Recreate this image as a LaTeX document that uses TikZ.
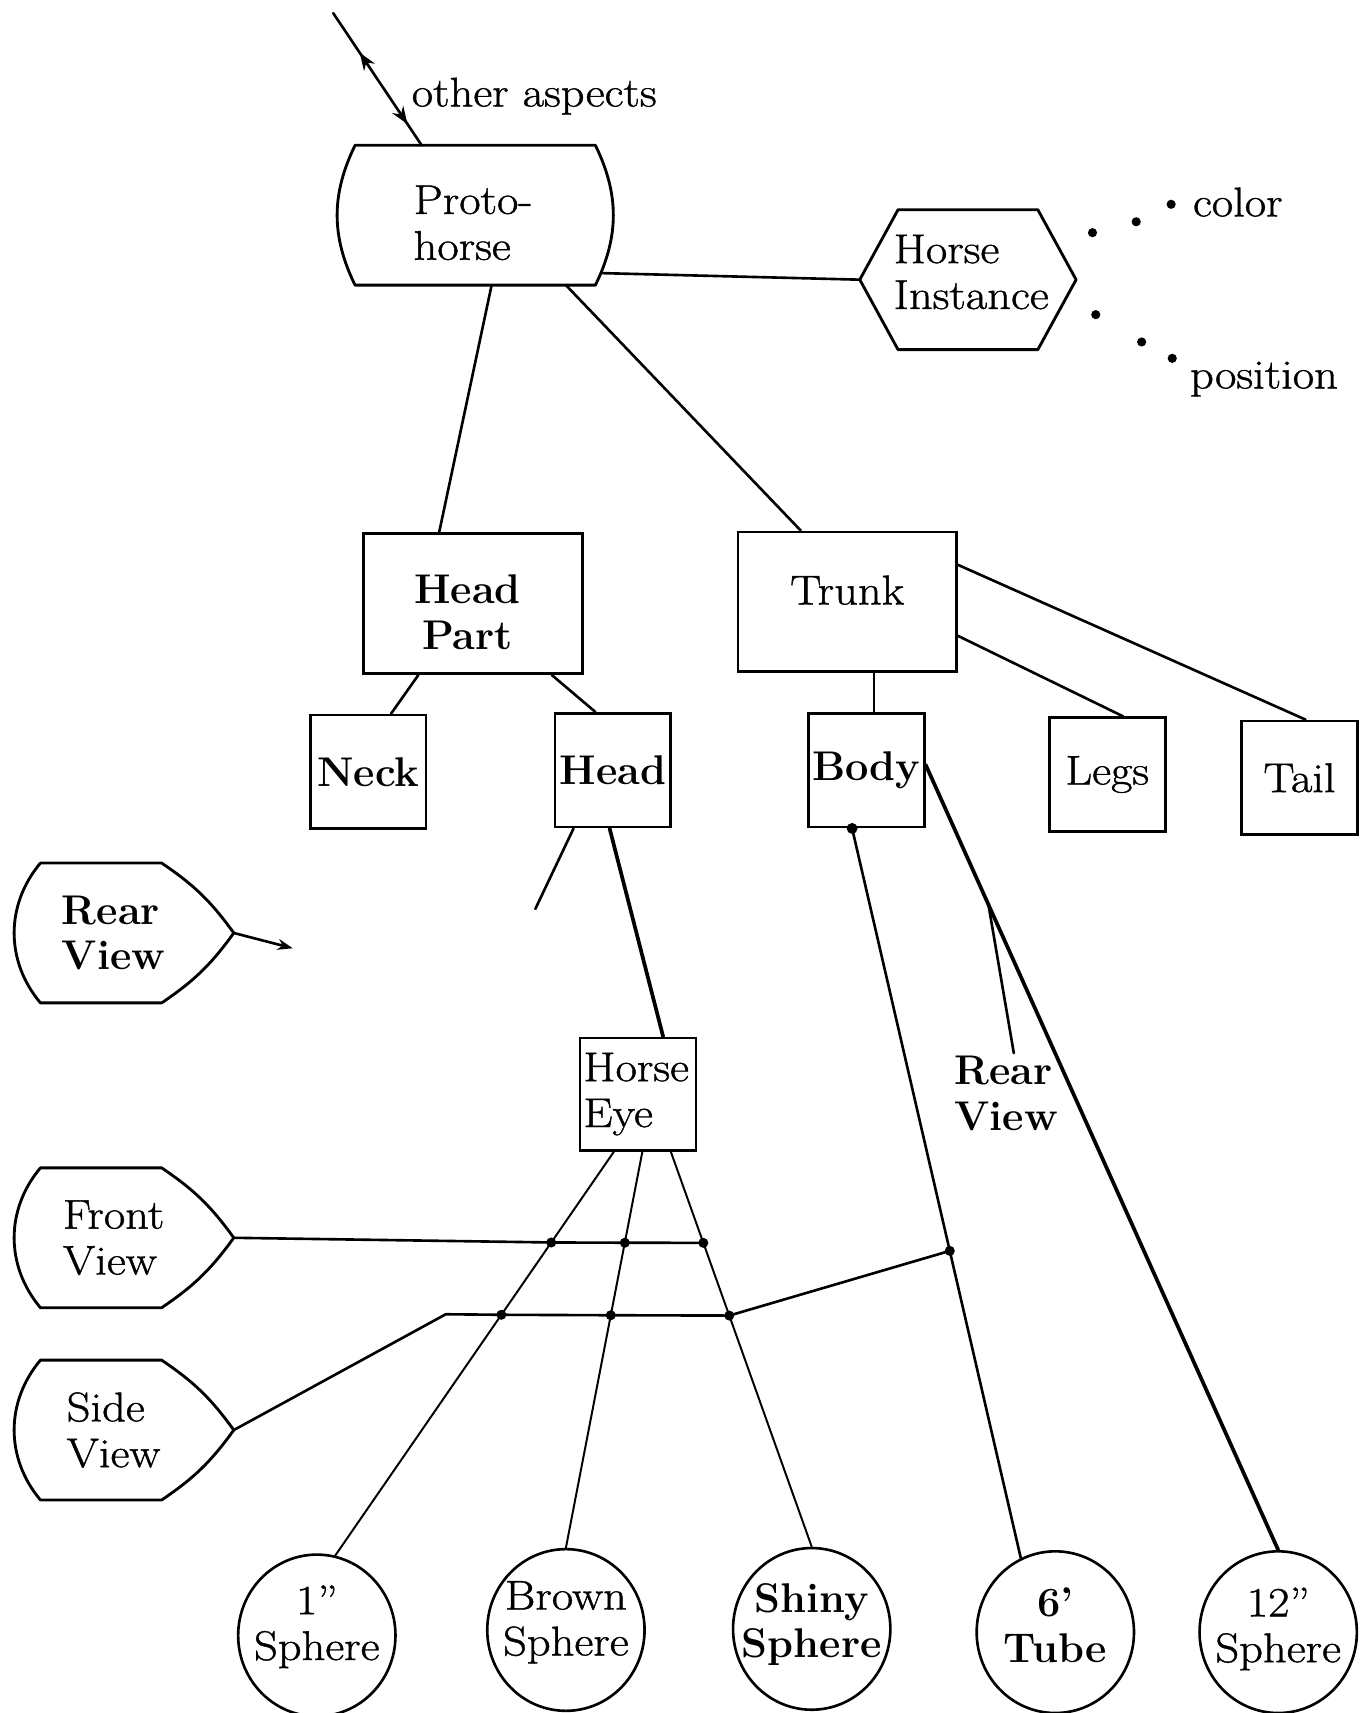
\documentclass[tikz,border=0pt]{standalone}
\usepackage{fontspec}
\setmainfont{Latin Modern Roman}[UprightFeatures={FakeStretch=1.12,FakeBold=1.0}]
\usetikzlibrary{calc,shapes.geometric,arrows.meta,decorations.markings}

\begin{document}
\begin{tikzpicture}[x=0.5pt,y=-0.5pt,
  every node/.style={font=\fontsize{19}{21}\selectfont, inner sep=0pt},
  bold/.style={font=\fontsize{19}{21}\selectfont\bfseries},
  ln/.style={line width=1.2pt, line cap=round, line join=round},
  fine/.style={line width=0.9pt, line cap=round},
  heavy/.style={line width=1.7pt, line cap=round},
  outline/.style={line width=1.3pt, line join=round},
  partbox/.style={draw, line width=1.3pt, minimum width=53pt, minimum height=52pt, align=center},
  bigbox/.style={draw, line width=1.3pt, minimum width=100pt, minimum height=64pt, align=center},
  sphere/.style={draw, ellipse, line width=1.2pt, minimum width=72pt, minimum height=74pt}
]
\useasboundingbox (0,0) rectangle (1250,1568);

% ---- top: the prototype and its instance
\node[minimum width=110pt, minimum height=64pt] (proto) at (435,197) {};
\node[align=left] (protot) at (433,204) {Proto-\\horse};
\draw[outline, shift={(proto.center)}] (-110,-64) -- (110,-64) to[bend left=26] (110,64)
  -- (-110,64) to[bend left=26] (-110,-64) -- cycle;

\node (aspects) at (489,88) {other aspects};
\coordinate (src) at (305,12);
\coordinate (protoTop) at ($(proto.center)+(-49,-64)$);
\draw[ln, postaction={decorate}, decoration={markings,
    mark=at position 0.30 with {\arrowreversed{Stealth[length=8pt,width=6pt]}},
    mark=at position 0.84 with {\arrow{Stealth[length=8pt,width=6pt]}}}] (src) -- (protoTop);

\node[minimum width=64pt, minimum height=64pt] (inst) at (886,256) {};
\node[align=left] (instt) at (889,249) {Horse\\Instance};
\draw[outline, shift={(inst.center)}] (-64,-64) -- (64,-64) -- (99,0) -- (64,64)
  -- (-64,64) -- (-99,0) -- cycle;
\coordinate (instL) at ($(inst.center)+(-99,0)$);
\coordinate (protoR) at ($(proto.center)+(116,53)$);
\draw[ln] (protoR) -- (instL);

\node (color) at (1133,185) {color};
\node (position) at (1157,347) {position};
\foreach \p in {(1000,213),(1040,203),(1072,187),(1003,288),(1045,313),(1073,328)}
  \fill \p circle[radius=2.1pt];

% ---- parts of the horse
\node[bigbox] (headpart) at (433,552.5) {};
\node[bold, align=center] (headpartt) at (428,560) {Head\\Part};
\node[bigbox, text depth=11pt] (trunk) at (775.5,551) {Trunk};
\draw[ln] ($(proto.center)+(15,64)$) -- ($(headpart.north)+(-31,0)$);
\draw[ln] ($(proto.center)+(83,64)$) -- ($(trunk.north)+(-42.5,0)$);

\node[partbox, bold] (neck) at (337,706.5) {Neck};
\node[partbox, bold] (head) at (561,705) {Head};
\node[partbox, bold] (body) at (793,705) {Body};
\node[partbox] (legs) at (1013.5,709) {Legs};
\node[partbox] (tail) at (1189.5,712) {Tail};

\draw[ln] ($(headpart.south)+(-50,0)$) -- ($(neck.north)+(21,0)$);
\draw[ln] ($(headpart.south)+(72,0)$) -- ($(head.north)+(-16,0)$);
\draw[ln] ($(trunk.south)+(24.5,0)$) -- ($(body.north)+(7,0)$);
\draw[ln] ($(trunk.east)+(0,31)$) -- ($(legs.north)+(14.5,0)$);
\draw[ln] ($(trunk.east)+(0,-34)$) -- ($(tail.north)+(5.5,0)$);

\coordinate (stub) at (490,832);
\draw[ln] ($(head.south)+(-36,0)$) -- (stub);

\node[draw, line width=1.1pt, minimum height=51.5pt, text width=50pt, inner xsep=1.5pt,
  align=left] (eye) at (584,1001.5) {Horse\\Eye};
\draw[heavy] ($(head.south)+(-3,0)$) -- ($(eye.north)+(23,0)$);

% ---- views
\node[bold, align=left] (rv) at (104,854) {Rear\\View};
\node[align=left] (fv) at (104,1133) {Front\\View};
\node[align=left] (sv) at (104,1309) {Side\\View};
\foreach \v in {rv,fv,sv}
  \draw[outline, shift={(\v.center)}] (-67,-64) -- (44,-64) to[bend left=10] (110,0)
    to[bend left=10] (44,64) -- (-67,64) to[bend left=40] (-67,-64) -- cycle;

\coordinate (rvP) at ($(rv.center)+(110,0)$);
\coordinate (rvEnd) at (268,868);
\draw[ln, -{Stealth[length=7pt,width=5pt]}] (rvP) -- (rvEnd);

% ---- primitive solids
\node[sphere] (s1) at (290,1497) {};
\node[align=center] (s1t) at ($(s1)+(0,-8)$) {1''\\Sphere};
\node[sphere] (s2) at (518,1492) {};
\node[align=center] (s2t) at ($(s2)+(0,-7)$) {Brown\\Sphere};
\node[sphere] (s3) at (743,1491) {};
\node[bold, align=center] (s3t) at ($(s3)+(0,-4)$) {Shiny\\Sphere};
\node[sphere] (tube) at (966,1494) {};
\node[bold, align=center] (tubet) at ($(tube)+(0,-6)$) {6'\\Tube};
\node[sphere] (s5) at (1170,1494) {};
\node[align=center] (s5t) at ($(s5)+(0,-3)$) {12''\\Sphere};

\coordinate (e1) at ($(eye.south)+(-22,0)$);
\coordinate (e2) at ($(eye.south)+(4,0)$);
\coordinate (e3) at ($(eye.south)+(30,0)$);
\coordinate (t1) at (s1.77);
\coordinate (t2) at (s2.north);
\coordinate (t3) at (s3.north);
\draw[fine] (e1) -- (t1);
\draw[fine] (e2) -- (t2);
\draw[fine] (e3) -- (t3);

\coordinate (bT) at ($(body.south)+(-13,0)$);
\coordinate (bR) at ($(body.east)+(0,-5)$);
\draw[ln] (bT) -- (tube.115);
\draw[heavy] (bR) -- (s5.north);
\fill (bT) circle[radius=2.5pt];

% ---- view links
\coordinate (j11) at ($(e1)!0.225!(t1)$);
\coordinate (j12) at ($(e2)!0.230!(t2)$);
\coordinate (j13) at ($(e3)!0.231!(t3)$);
\coordinate (j21) at ($(e1)!0.404!(t1)$);
\coordinate (j22) at ($(e2)!0.413!(t2)$);
\coordinate (j23) at ($(e3)!0.415!(t3)$);
\coordinate (j24) at ($(bT)!0.579!(tube.115)$);
\coordinate (jr) at ($(bR)!0.178!(s5.north)$);

\coordinate (fvP) at ($(fv.center)+(110,0)$);
\coordinate (svP) at ($(sv.center)+(110,0)$);
\coordinate (bend) at (408,1203);
\draw[ln] (fvP) -- (j11) -- (j12) -- (j13);
\draw[ln] (svP) -- (bend) -- (j21) -- (j22) -- (j23) -- (j24);
\foreach \j in {j11,j12,j13,j21,j22,j23,j24}
  \fill (\j) circle[radius=2.3pt];

\node[bold, align=left] (rvl) at (921,1001) {Rear\\View};
\draw[ln] ($(rvl.center)+(7,-37)$) -- (jr);
\end{tikzpicture}
\end{document}
